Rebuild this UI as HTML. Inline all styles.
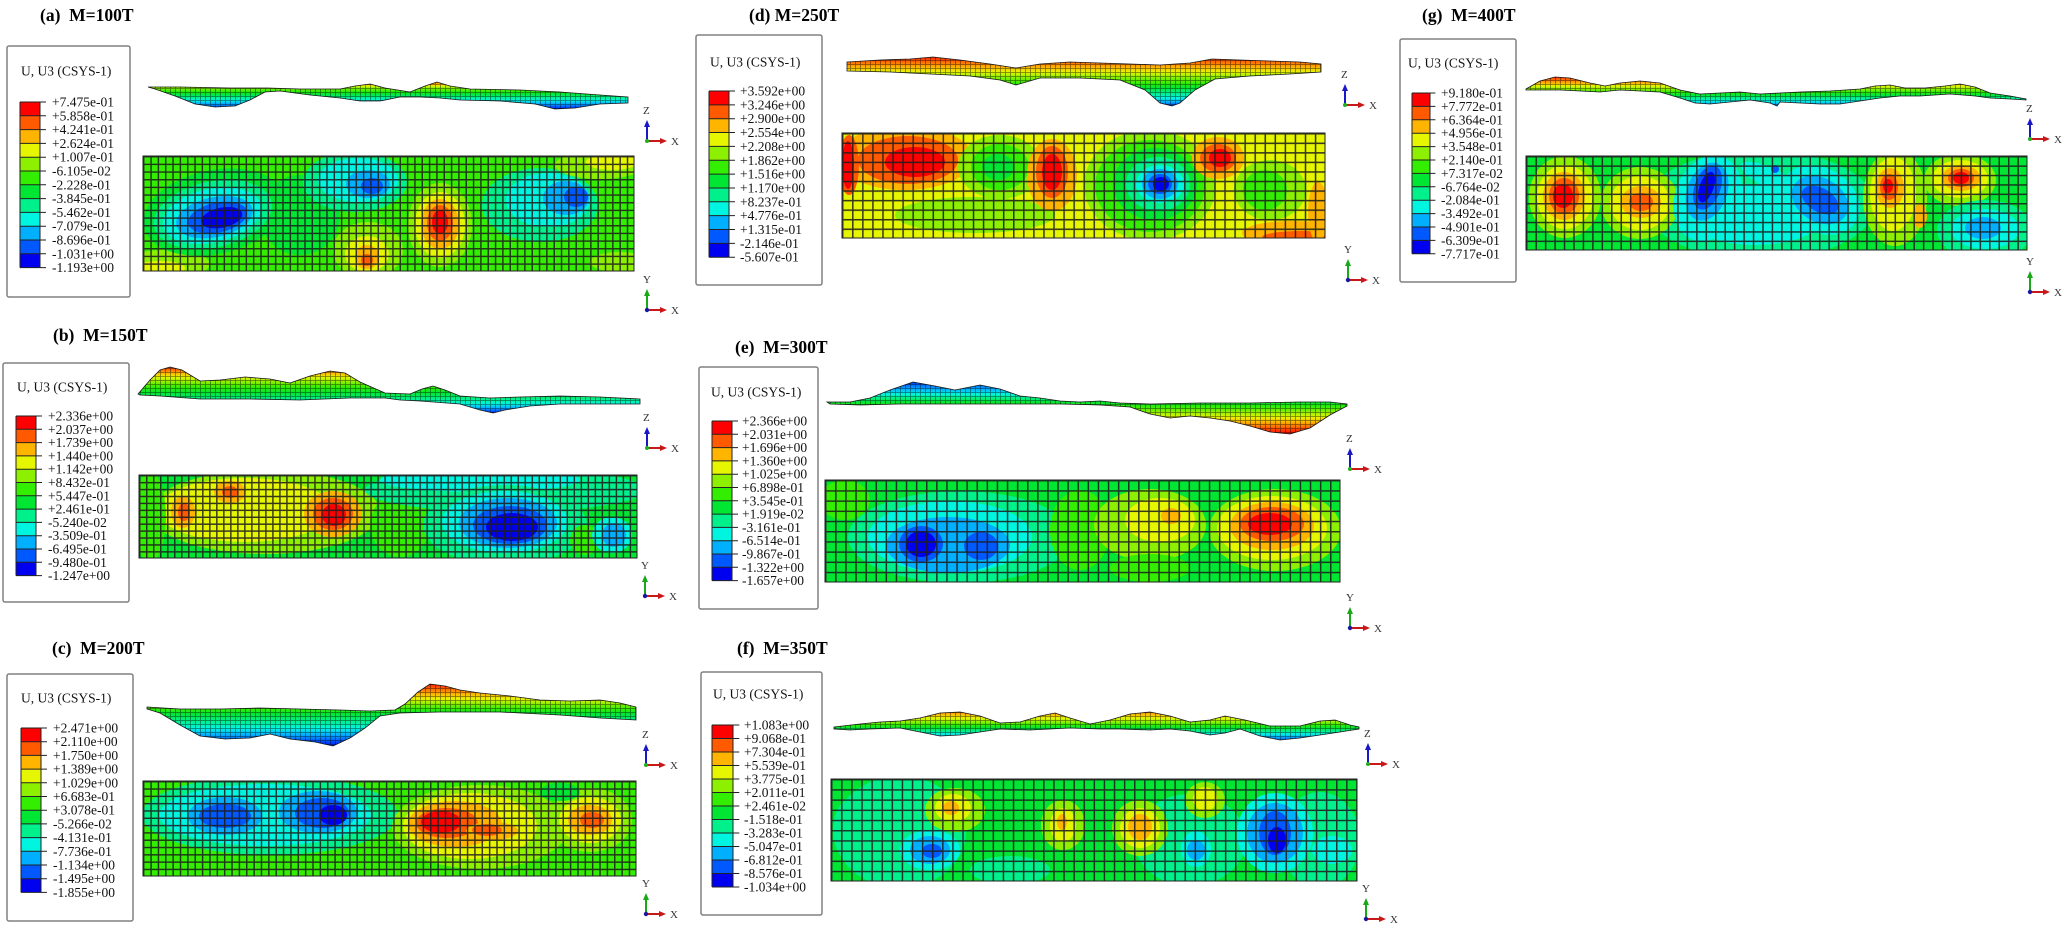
<!DOCTYPE html>
<html><head><meta charset="utf-8"><style>
html,body{margin:0;padding:0;background:#fff;}
svg{display:block;}
text{font-family:"Liberation Serif",serif;fill:#111;}
.tt{font-weight:bold;font-size:17.5px;fill:#000;}
.lg{font-size:13.5px;}
.ax{font-size:11px;fill:#333;}
</style></head><body>
<svg width="2067" height="930" viewBox="0 0 2067 930" xmlns="http://www.w3.org/2000/svg">
<defs>
<g id="bar">
<rect x="0" y="0" width="1" height="1" fill="#ff0000"/>
<rect x="0" y="1" width="1" height="1" fill="#ff5a00"/>
<rect x="0" y="2" width="1" height="1" fill="#ffb400"/>
<rect x="0" y="3" width="1" height="1" fill="#e6f500"/>
<rect x="0" y="4" width="1" height="1" fill="#8cf000"/>
<rect x="0" y="5" width="1" height="1" fill="#33ee00"/>
<rect x="0" y="6" width="1" height="1" fill="#00e633"/>
<rect x="0" y="7" width="1" height="1" fill="#00f08c"/>
<rect x="0" y="8" width="1" height="1" fill="#00f5e0"/>
<rect x="0" y="9" width="1" height="1" fill="#00b0ff"/>
<rect x="0" y="10" width="1" height="1" fill="#0058ff"/>
<rect x="0" y="11" width="1" height="1" fill="#0000f0"/>
<path d="M0 0H1.3M0 1H1.3M0 2H1.3M0 3H1.3M0 4H1.3M0 5H1.3M0 6H1.3M0 7H1.3M0 8H1.3M0 9H1.3M0 10H1.3M0 11H1.3M0 12H1.3M0 0V12M1 0V12" stroke="#222" stroke-width="1" fill="none" vector-effect="non-scaling-stroke"/>
</g>
<pattern id="m3" patternUnits="userSpaceOnUse" width="5" height="4"><path d="M.5 0V4M0 .5H5" stroke="#000" stroke-opacity=".5" stroke-width=".8" fill="none"/></pattern>
<pattern id="pa" patternUnits="userSpaceOnUse" x="143" y="156" width="7.33" height="7.67"><path d="M0 .7H7.33M.7 0V7.67" stroke="#1e1e1e" stroke-opacity=".88" stroke-width="1.5" fill="none"/></pattern>
<pattern id="pb" patternUnits="userSpaceOnUse" x="139" y="475" width="7.01" height="6.92"><path d="M0 .7H7.01M.7 0V6.92" stroke="#1e1e1e" stroke-opacity=".88" stroke-width="1.5" fill="none"/></pattern>
<pattern id="pc" patternUnits="userSpaceOnUse" x="143" y="781" width="7.36" height="7.31"><path d="M0 .7H7.36M.7 0V7.31" stroke="#1e1e1e" stroke-opacity=".88" stroke-width="1.5" fill="none"/></pattern>
<pattern id="pd" patternUnits="userSpaceOnUse" x="842" y="133" width="10.06" height="9.55"><path d="M0 .7H10.06M.7 0V9.55" stroke="#1e1e1e" stroke-opacity=".88" stroke-width="1.6" fill="none"/></pattern>
<pattern id="pe" patternUnits="userSpaceOnUse" x="825" y="480" width="10.1" height="10.2"><path d="M0 .7H10.1M.7 0V10.2" stroke="#1e1e1e" stroke-opacity=".88" stroke-width="1.6" fill="none"/></pattern>
<pattern id="pf" patternUnits="userSpaceOnUse" x="831" y="779" width="10.1" height="10.2"><path d="M0 .7H10.1M.7 0V10.2" stroke="#1e1e1e" stroke-opacity=".88" stroke-width="1.6" fill="none"/></pattern>
<pattern id="pg" patternUnits="userSpaceOnUse" x="1526" y="156" width="9.45" height="9.4"><path d="M0 .7H9.45M.7 0V9.4" stroke="#1e1e1e" stroke-opacity=".88" stroke-width="1.6" fill="none"/></pattern>
<clipPath id="ca"><rect x="143" y="156" width="491" height="115"/></clipPath>
<clipPath id="cb"><rect x="139" y="475" width="498" height="83"/></clipPath>
<clipPath id="cc"><rect x="143" y="781" width="493" height="95"/></clipPath>
<clipPath id="cd"><rect x="842" y="133" width="483" height="105"/></clipPath>
<clipPath id="ce"><rect x="825" y="480" width="515" height="102"/></clipPath>
<clipPath id="cf"><rect x="831" y="779" width="526" height="102"/></clipPath>
<clipPath id="cg"><rect x="1526" y="156" width="501" height="94"/></clipPath>

<linearGradient id="ga" gradientUnits="userSpaceOnUse" x1="0" y1="78" x2="0" y2="110">
<stop offset="0" stop-color="#ff0000"/><stop offset=".09" stop-color="#ff5a00"/><stop offset=".19" stop-color="#ffb400"/><stop offset=".25" stop-color="#e6f500"/><stop offset=".31" stop-color="#8cf000"/><stop offset=".41" stop-color="#33ee00"/><stop offset=".5" stop-color="#00e633"/><stop offset=".6" stop-color="#00f08c"/><stop offset=".7" stop-color="#00f5e0"/><stop offset=".8" stop-color="#00b0ff"/><stop offset=".9" stop-color="#0058ff"/><stop offset="1" stop-color="#0000f0"/></linearGradient>
<linearGradient id="gb" gradientUnits="userSpaceOnUse" x1="0" y1="365" x2="0" y2="415">
<stop offset="0" stop-color="#ff0000"/><stop offset=".08" stop-color="#ff5a00"/><stop offset=".16" stop-color="#ffb400"/><stop offset=".24" stop-color="#e6f500"/><stop offset=".34" stop-color="#8cf000"/><stop offset=".44" stop-color="#33ee00"/><stop offset=".56" stop-color="#00e633"/><stop offset=".68" stop-color="#00f08c"/><stop offset=".78" stop-color="#00f5e0"/><stop offset=".86" stop-color="#00b0ff"/><stop offset=".92" stop-color="#0058ff"/><stop offset="1" stop-color="#0000f0"/></linearGradient>
<linearGradient id="gc" gradientUnits="userSpaceOnUse" x1="0" y1="682" x2="0" y2="748">
<stop offset="0" stop-color="#ff0000"/><stop offset=".09" stop-color="#ff5a00"/><stop offset=".18" stop-color="#ffb400"/><stop offset=".26" stop-color="#e6f500"/><stop offset=".33" stop-color="#8cf000"/><stop offset=".41" stop-color="#33ee00"/><stop offset=".48" stop-color="#00e633"/><stop offset=".59" stop-color="#00f08c"/><stop offset=".7" stop-color="#00f5e0"/><stop offset=".8" stop-color="#00b0ff"/><stop offset=".89" stop-color="#0058ff"/><stop offset="1" stop-color="#0000f0"/></linearGradient>
<linearGradient id="gd" gradientUnits="userSpaceOnUse" x1="0" y1="55" x2="0" y2="108">
<stop offset="0" stop-color="#ff0000"/><stop offset=".11" stop-color="#ff5a00"/><stop offset=".23" stop-color="#ffb400"/><stop offset=".32" stop-color="#e6f500"/><stop offset=".42" stop-color="#8cf000"/><stop offset=".53" stop-color="#33ee00"/><stop offset=".62" stop-color="#00e633"/><stop offset=".72" stop-color="#00f08c"/><stop offset=".81" stop-color="#00f5e0"/><stop offset=".89" stop-color="#00b0ff"/><stop offset=".94" stop-color="#0058ff"/><stop offset="1" stop-color="#0000f0"/></linearGradient>
<linearGradient id="ge" gradientUnits="userSpaceOnUse" x1="0" y1="380" x2="0" y2="434">
<stop offset="0" stop-color="#0000f0"/><stop offset=".07" stop-color="#0058ff"/><stop offset=".17" stop-color="#00b0ff"/><stop offset=".26" stop-color="#00f5e0"/><stop offset=".33" stop-color="#00f08c"/><stop offset=".41" stop-color="#00e633"/><stop offset=".5" stop-color="#33ee00"/><stop offset=".59" stop-color="#8cf000"/><stop offset=".69" stop-color="#e6f500"/><stop offset=".78" stop-color="#ffb400"/><stop offset=".89" stop-color="#ff5a00"/><stop offset="1" stop-color="#ff0000"/></linearGradient>
<linearGradient id="gf" gradientUnits="userSpaceOnUse" x1="0" y1="710" x2="0" y2="741">
<stop offset="0" stop-color="#ff5a00"/><stop offset=".13" stop-color="#ffb400"/><stop offset=".26" stop-color="#e6f500"/><stop offset=".39" stop-color="#8cf000"/><stop offset=".48" stop-color="#33ee00"/><stop offset=".58" stop-color="#00e633"/><stop offset=".68" stop-color="#00f08c"/><stop offset=".77" stop-color="#00f5e0"/><stop offset=".87" stop-color="#00b0ff"/><stop offset="1" stop-color="#0058ff"/></linearGradient>
<linearGradient id="gg" gradientUnits="userSpaceOnUse" x1="0" y1="75" x2="0" y2="107">
<stop offset="0" stop-color="#ff0000"/><stop offset=".12" stop-color="#ff5a00"/><stop offset=".25" stop-color="#ffb400"/><stop offset=".34" stop-color="#e6f500"/><stop offset=".44" stop-color="#8cf000"/><stop offset=".53" stop-color="#33ee00"/><stop offset=".62" stop-color="#00e633"/><stop offset=".72" stop-color="#00f08c"/><stop offset=".81" stop-color="#00f5e0"/><stop offset=".91" stop-color="#00b0ff"/><stop offset="1" stop-color="#0058ff"/></linearGradient>

<path id="sa" d="M148 87L180 87L230 88L268 88L300 89L340 89L355 86L370 84L385 88L410 92L425 86L437 82L450 86L470 89L520 90L560 92L600 95L628 97L628 103L600 104L575 108L555 109L535 104L500 101L460 100L440 98L420 97L400 97L380 101L360 101L340 98L310 95L280 91L265 92L250 100L235 106L215 107L195 104L175 96L155 89Z"/>
<path id="sb" d="M138 394L150 380L160 370L170 367L182 370L200 381L220 380L245 377L270 379L290 383L310 376L330 371L345 373L360 382L385 393L410 394L422 389L433 386L445 390L460 396L490 398L520 397L560 396L600 397L640 399L640 404L600 404L560 404L530 406L505 410L493 413L480 410L460 404L420 401L400 400L385 398L350 398L300 400L250 399L200 399L160 396L140 395Z"/>
<path id="sc" d="M147 707L180 709L220 709L260 708L300 709L340 710L370 711L395 710L405 704L418 692L430 684L445 686L460 690L480 693L510 696L540 700L570 701L600 700L620 703L636 707L636 720L600 718L560 715L500 712L440 712L400 713L380 716L365 728L350 738L333 746L315 742L290 739L270 734L250 738L225 739L200 736L180 725L160 713L147 709Z"/>
<path id="sd" d="M847 62L880 60L910 59L933 57L960 60L990 64L1016 68L1040 64L1070 62L1100 63L1130 64L1160 65L1190 63L1212 59L1240 60L1270 61L1300 62L1321 64L1321 72L1290 74L1250 76L1215 79L1195 90L1180 103L1172 106L1160 103L1145 90L1120 80L1080 78L1040 78L1016 85L1000 80L970 76L930 74L890 72L847 71Z"/>
<path id="se" d="M827 402L850 402L870 398L890 390L913 382L935 386L955 390L980 385L1000 389L1020 396L1040 398L1060 401L1080 402L1100 401L1120 403L1150 404L1200 403L1250 403L1300 402L1330 402L1347 404L1347 406L1330 415L1310 428L1290 434L1270 432L1250 426L1230 421L1210 418L1190 416L1170 418L1150 414L1130 407L1100 405L1060 404L1000 404L950 404L900 404L860 405L830 404Z"/>
<path id="sf" d="M834 727L860 724L880 722L900 721L920 718L940 713L960 712L980 716L1000 723L1020 722L1040 716L1055 713L1070 718L1090 724L1110 720L1130 714L1150 712L1170 716L1190 722L1210 720L1225 716L1245 720L1270 726L1300 726L1320 721L1335 720L1350 725L1359 727L1359 729L1340 732L1320 735L1300 738L1280 740L1260 736L1240 729L1225 733L1210 735L1190 731L1170 729L1150 730L1120 729L1100 729L1070 728L1050 729L1030 730L1000 729L980 732L960 735L940 736L920 732L900 728L870 729L850 730L834 729Z"/>
<path id="sg" d="M1526 89L1540 81L1555 77L1570 78L1590 83L1605 86L1620 83L1640 81L1660 83L1680 90L1700 94L1720 93L1740 92L1760 94L1780 93L1800 92L1830 91L1860 89L1875 86L1890 85L1905 88L1925 88L1945 86L1960 84L1975 87L1990 93L2010 96L2026 99L2026 100L2010 99L1990 98L1975 96L1950 94L1920 96L1900 96L1880 98L1860 101L1840 104L1820 104L1800 103L1780 102L1777 106L1770 103L1750 100L1730 102L1710 104L1695 103L1680 98L1660 92L1640 91L1620 90L1600 92L1580 91L1560 90L1540 90L1526 90Z"/>
</defs>

<rect width="2067" height="930" fill="#fff"/>

<!-- Titles -->
<text class="tt" x="40" y="21">(a)&#160; M=100T</text>
<text class="tt" x="53" y="341">(b)&#160; M=150T</text>
<text class="tt" x="52" y="654">(c)&#160; M=200T</text>
<text class="tt" x="749" y="21">(d) M=250T</text>
<text class="tt" x="735" y="353">(e)&#160; M=300T</text>
<text class="tt" x="737" y="654">(f)&#160; M=350T</text>
<text class="tt" x="1422" y="21">(g)&#160; M=400T</text>

<!-- Legends -->
<g>
<rect x="7" y="46" width="123" height="251" rx="2" fill="#fff" stroke="#808080" stroke-width="1.5"/>
<text class="lg" x="21" y="75.5">U, U3 (CSYS-1)</text>
<use href="#bar" transform="translate(20,102) scale(20,13.8)"/>
<text class="lg"><tspan x="52" y="106.5">+7.475e-01</tspan><tspan x="52" y="120.3">+5.858e-01</tspan><tspan x="52" y="134.1">+4.241e-01</tspan><tspan x="52" y="147.9">+2.624e-01</tspan><tspan x="52" y="161.7">+1.007e-01</tspan><tspan x="52" y="175.5">-6.105e-02</tspan><tspan x="52" y="189.3">-2.228e-01</tspan><tspan x="52" y="203.1">-3.845e-01</tspan><tspan x="52" y="216.9">-5.462e-01</tspan><tspan x="52" y="230.7">-7.079e-01</tspan><tspan x="52" y="244.5">-8.696e-01</tspan><tspan x="52" y="258.3">-1.031e+00</tspan><tspan x="52" y="272.1">-1.193e+00</tspan></text>
</g>
<g>
<rect x="3" y="363" width="126" height="239" rx="2" fill="#fff" stroke="#808080" stroke-width="1.5"/>
<text class="lg" x="17" y="391.5">U, U3 (CSYS-1)</text>
<use href="#bar" transform="translate(16,416) scale(20,13.3)"/>
<text class="lg"><tspan x="48" y="420.5">+2.336e+00</tspan><tspan x="48" y="433.8">+2.037e+00</tspan><tspan x="48" y="447.1">+1.739e+00</tspan><tspan x="48" y="460.4">+1.440e+00</tspan><tspan x="48" y="473.7">+1.142e+00</tspan><tspan x="48" y="487">+8.432e-01</tspan><tspan x="48" y="500.3">+5.447e-01</tspan><tspan x="48" y="513.6">+2.461e-01</tspan><tspan x="48" y="526.9">-5.240e-02</tspan><tspan x="48" y="540.2">-3.509e-01</tspan><tspan x="48" y="553.5">-6.495e-01</tspan><tspan x="48" y="566.8">-9.480e-01</tspan><tspan x="48" y="580.1">-1.247e+00</tspan></text>
</g>
<g>
<rect x="7" y="674" width="126" height="247" rx="2" fill="#fff" stroke="#808080" stroke-width="1.5"/>
<text class="lg" x="21" y="702.5">U, U3 (CSYS-1)</text>
<use href="#bar" transform="translate(21,728) scale(20,13.7)"/>
<text class="lg"><tspan x="53" y="732.5">+2.471e+00</tspan><tspan x="53" y="746.2">+2.110e+00</tspan><tspan x="53" y="759.9">+1.750e+00</tspan><tspan x="53" y="773.6">+1.389e+00</tspan><tspan x="53" y="787.3">+1.029e+00</tspan><tspan x="53" y="801">+6.683e-01</tspan><tspan x="53" y="814.7">+3.078e-01</tspan><tspan x="53" y="828.4">-5.266e-02</tspan><tspan x="53" y="842.1">-4.131e-01</tspan><tspan x="53" y="855.8">-7.736e-01</tspan><tspan x="53" y="869.5">-1.134e+00</tspan><tspan x="53" y="883.2">-1.495e+00</tspan><tspan x="53" y="896.9">-1.855e+00</tspan></text>
</g>
<g>
<rect x="696" y="35" width="126" height="250" rx="2" fill="#fff" stroke="#808080" stroke-width="1.5"/>
<text class="lg" x="710" y="66.5">U, U3 (CSYS-1)</text>
<use href="#bar" transform="translate(709,91) scale(20,13.85)"/>
<text class="lg"><tspan x="740" y="95.5">+3.592e+00</tspan><tspan x="740" y="109.35">+3.246e+00</tspan><tspan x="740" y="123.2">+2.900e+00</tspan><tspan x="740" y="137.05">+2.554e+00</tspan><tspan x="740" y="150.9">+2.208e+00</tspan><tspan x="740" y="164.75">+1.862e+00</tspan><tspan x="740" y="178.6">+1.516e+00</tspan><tspan x="740" y="192.45">+1.170e+00</tspan><tspan x="740" y="206.3">+8.237e-01</tspan><tspan x="740" y="220.15">+4.776e-01</tspan><tspan x="740" y="234">+1.315e-01</tspan><tspan x="740" y="247.85">-2.146e-01</tspan><tspan x="740" y="261.7">-5.607e-01</tspan></text>
</g>
<g>
<rect x="699" y="367" width="119" height="242" rx="2" fill="#fff" stroke="#808080" stroke-width="1.5"/>
<text class="lg" x="711" y="396.5">U, U3 (CSYS-1)</text>
<use href="#bar" transform="translate(712,421) scale(20,13.3)"/>
<text class="lg"><tspan x="742" y="425.5">+2.366e+00</tspan><tspan x="742" y="438.8">+2.031e+00</tspan><tspan x="742" y="452.1">+1.696e+00</tspan><tspan x="742" y="465.4">+1.360e+00</tspan><tspan x="742" y="478.7">+1.025e+00</tspan><tspan x="742" y="492">+6.898e-01</tspan><tspan x="742" y="505.3">+3.545e-01</tspan><tspan x="742" y="518.6">+1.919e-02</tspan><tspan x="742" y="531.9">-3.161e-01</tspan><tspan x="742" y="545.2">-6.514e-01</tspan><tspan x="742" y="558.5">-9.867e-01</tspan><tspan x="742" y="571.8">-1.322e+00</tspan><tspan x="742" y="585.1">-1.657e+00</tspan></text>
</g>
<g>
<rect x="701" y="672" width="121" height="243" rx="2" fill="#fff" stroke="#808080" stroke-width="1.5"/>
<text class="lg" x="713" y="698.5">U, U3 (CSYS-1)</text>
<use href="#bar" transform="translate(712,725) scale(21,13.5)"/>
<text class="lg"><tspan x="744" y="729.5">+1.083e+00</tspan><tspan x="744" y="743">+9.068e-01</tspan><tspan x="744" y="756.5">+7.304e-01</tspan><tspan x="744" y="770">+5.539e-01</tspan><tspan x="744" y="783.5">+3.775e-01</tspan><tspan x="744" y="797">+2.011e-01</tspan><tspan x="744" y="810.5">+2.461e-02</tspan><tspan x="744" y="824">-1.518e-01</tspan><tspan x="744" y="837.5">-3.283e-01</tspan><tspan x="744" y="851">-5.047e-01</tspan><tspan x="744" y="864.5">-6.812e-01</tspan><tspan x="744" y="878">-8.576e-01</tspan><tspan x="744" y="891.5">-1.034e+00</tspan></text>
</g>
<g>
<rect x="1400" y="39" width="116" height="243" rx="2" fill="#fff" stroke="#808080" stroke-width="1.5"/>
<text class="lg" x="1408" y="67.5">U, U3 (CSYS-1)</text>
<use href="#bar" transform="translate(1412,93) scale(18,13.4)"/>
<text class="lg"><tspan x="1441" y="97.5">+9.180e-01</tspan><tspan x="1441" y="110.9">+7.772e-01</tspan><tspan x="1441" y="124.3">+6.364e-01</tspan><tspan x="1441" y="137.7">+4.956e-01</tspan><tspan x="1441" y="151.1">+3.548e-01</tspan><tspan x="1441" y="164.5">+2.140e-01</tspan><tspan x="1441" y="177.9">+7.317e-02</tspan><tspan x="1441" y="191.3">-6.764e-02</tspan><tspan x="1441" y="204.7">-2.084e-01</tspan><tspan x="1441" y="218.1">-3.492e-01</tspan><tspan x="1441" y="231.5">-4.901e-01</tspan><tspan x="1441" y="244.9">-6.309e-01</tspan><tspan x="1441" y="258.3">-7.717e-01</tspan></text>
</g>

<!-- 3D surfaces -->
<use href="#sa" fill="url(#ga)" stroke="#1a1a1a" stroke-width=".8"/><use href="#sa" fill="url(#m3)"/>
<use href="#sb" fill="url(#gb)" stroke="#1a1a1a" stroke-width=".8"/><use href="#sb" fill="url(#m3)"/>
<use href="#sc" fill="url(#gc)" stroke="#1a1a1a" stroke-width=".8"/><use href="#sc" fill="url(#m3)"/>
<use href="#sd" fill="url(#gd)" stroke="#1a1a1a" stroke-width=".8"/><use href="#sd" fill="url(#m3)"/>
<use href="#se" fill="url(#ge)" stroke="#1a1a1a" stroke-width=".8"/><use href="#se" fill="url(#m3)"/>
<use href="#sf" fill="url(#gf)" stroke="#1a1a1a" stroke-width=".8"/><use href="#sf" fill="url(#m3)"/>
<use href="#sg" fill="url(#gg)" stroke="#1a1a1a" stroke-width=".8"/><use href="#sg" fill="url(#m3)"/>

<!-- Contour (a) -->
<g clip-path="url(#ca)">
<rect x="143" y="156" width="491" height="115" fill="#33ee00"/>
<ellipse cx="300" cy="215" rx="40" ry="40" fill="#00e633"/>
<ellipse cx="165" cy="264" rx="45" ry="14" fill="#8cf000"/>
<ellipse cx="160" cy="268" rx="25" ry="7" fill="#e6f500"/>
<g transform="rotate(-12 215 215)">
<ellipse cx="215" cy="212" rx="72" ry="42" fill="#00e633"/>
<ellipse cx="213" cy="214" rx="60" ry="33" fill="#00f08c"/>
<ellipse cx="212" cy="215" rx="50" ry="27" fill="#00f5e0"/>
<ellipse cx="214" cy="217" rx="39" ry="20" fill="#00b0ff"/>
<ellipse cx="217" cy="218" rx="30" ry="15" fill="#0058ff"/>
<ellipse cx="221" cy="219" rx="21" ry="10" fill="#0000f0"/>
</g>
<ellipse cx="355" cy="182" rx="52" ry="30" fill="#00f08c"/>
<ellipse cx="358" cy="180" rx="40" ry="22" fill="#00f5e0"/>
<ellipse cx="368" cy="184" rx="22" ry="14" fill="#00b0ff"/>
<ellipse cx="372" cy="186" rx="11" ry="8" fill="#0058ff"/>
<ellipse cx="368" cy="250" rx="35" ry="28" fill="#8cf000"/>
<ellipse cx="367" cy="254" rx="22" ry="18" fill="#e6f500"/>
<ellipse cx="367" cy="257" rx="12" ry="12" fill="#ffb400"/>
<ellipse cx="367" cy="260" rx="6" ry="6" fill="#ff5a00"/>
<ellipse cx="440" cy="225" rx="32" ry="42" fill="#8cf000"/>
<ellipse cx="440" cy="225" rx="25" ry="33" fill="#e6f500"/>
<ellipse cx="440" cy="224" rx="19" ry="25" fill="#ffb400"/>
<ellipse cx="440" cy="223" rx="13" ry="18" fill="#ff5a00"/>
<ellipse cx="440" cy="222" rx="8" ry="12" fill="#ff0000"/>
<ellipse cx="540" cy="205" rx="58" ry="37" fill="#00f08c"/>
<ellipse cx="548" cy="200" rx="42" ry="27" fill="#00f5e0"/>
<ellipse cx="566" cy="198" rx="23" ry="17" fill="#00b0ff"/>
<ellipse cx="576" cy="197" rx="12" ry="10" fill="#0058ff"/>
<ellipse cx="600" cy="165" rx="45" ry="14" fill="#8cf000"/>
<ellipse cx="612" cy="162" rx="26" ry="8" fill="#e6f500"/>
<ellipse cx="620" cy="262" rx="30" ry="10" fill="#8cf000"/>
<rect x="143" y="156" width="491" height="115" fill="url(#pa)"/>
</g>
<rect x="143" y="156" width="491" height="115" fill="none" stroke="#222" stroke-width="1"/>

<!-- Contour (b) -->
<g clip-path="url(#cb)">
<rect x="139" y="475" width="498" height="83" fill="#00e633"/>
<ellipse cx="265" cy="512" rx="115" ry="42" fill="#8cf000"/>
<ellipse cx="245" cy="510" rx="88" ry="32" fill="#e6f500"/>
<ellipse cx="150" cy="517" rx="16" ry="45" fill="#33ee00"/>
<ellipse cx="183" cy="512" rx="12" ry="16" fill="#ffb400"/>
<ellipse cx="184" cy="512" rx="6" ry="9" fill="#ff5a00"/>
<ellipse cx="230" cy="492" rx="16" ry="11" fill="#ffb400"/>
<ellipse cx="230" cy="492" rx="8" ry="6" fill="#ff5a00"/>
<ellipse cx="333" cy="514" rx="29" ry="23" fill="#ffb400"/>
<ellipse cx="333" cy="514" rx="20" ry="16" fill="#ff5a00"/>
<ellipse cx="334" cy="515" rx="12" ry="11" fill="#ff0000"/>
<ellipse cx="400" cy="525" rx="30" ry="32" fill="#33ee00"/>
<ellipse cx="505" cy="490" rx="140" ry="22" fill="#00f08c"/>
<ellipse cx="480" cy="480" rx="100" ry="12" fill="#00f5e0"/>
<ellipse cx="505" cy="525" rx="82" ry="40" fill="#00f08c"/>
<ellipse cx="505" cy="522" rx="63" ry="31" fill="#00f5e0"/>
<ellipse cx="508" cy="523" rx="49" ry="25" fill="#00b0ff"/>
<ellipse cx="510" cy="525" rx="37" ry="19" fill="#0058ff"/>
<ellipse cx="512" cy="527" rx="26" ry="14" fill="#0000f0"/>
<ellipse cx="585" cy="540" rx="15" ry="15" fill="#33ee00"/>
<ellipse cx="612" cy="535" rx="20" ry="18" fill="#00f5e0"/>
<ellipse cx="614" cy="535" rx="12" ry="12" fill="#00b0ff"/>
<rect x="139" y="475" width="498" height="83" fill="url(#pb)"/>
</g>
<rect x="139" y="475" width="498" height="83" fill="none" stroke="#222" stroke-width="1"/>

<!-- Contour (c) -->
<g clip-path="url(#cc)">
<rect x="143" y="781" width="493" height="95" fill="#33ee00"/>
<ellipse cx="270" cy="815" rx="128" ry="40" fill="#00f08c"/>
<ellipse cx="265" cy="815" rx="106" ry="31" fill="#00f5e0"/>
<ellipse cx="225" cy="816" rx="37" ry="19" fill="#00b0ff"/>
<ellipse cx="225" cy="816" rx="26" ry="12" fill="#0058ff"/>
<ellipse cx="318" cy="812" rx="39" ry="21" fill="#00b0ff"/>
<ellipse cx="322" cy="813" rx="27" ry="15" fill="#0058ff"/>
<ellipse cx="333" cy="815" rx="14" ry="10" fill="#0000f0"/>
<ellipse cx="480" cy="827" rx="88" ry="42" fill="#8cf000"/>
<ellipse cx="470" cy="826" rx="67" ry="33" fill="#e6f500"/>
<ellipse cx="455" cy="824" rx="47" ry="23" fill="#ffb400"/>
<ellipse cx="447" cy="823" rx="31" ry="15" fill="#ff5a00"/>
<ellipse cx="441" cy="822" rx="20" ry="11" fill="#ff0000"/>
<ellipse cx="492" cy="831" rx="26" ry="9" fill="#ffb400"/>
<ellipse cx="487" cy="830" rx="15" ry="6" fill="#ff5a00"/>
<ellipse cx="590" cy="820" rx="42" ry="32" fill="#8cf000"/>
<ellipse cx="590" cy="820" rx="31" ry="23" fill="#e6f500"/>
<ellipse cx="590" cy="820" rx="22" ry="15" fill="#ffb400"/>
<ellipse cx="592" cy="820" rx="12" ry="8" fill="#ff5a00"/>
<ellipse cx="560" cy="792" rx="20" ry="9" fill="#00e633"/>
<rect x="143" y="781" width="493" height="95" fill="url(#pc)"/>
</g>
<rect x="143" y="781" width="493" height="95" fill="none" stroke="#222" stroke-width="1"/>

<!-- Contour (d) -->
<g clip-path="url(#cd)">
<rect x="842" y="133" width="483" height="105" fill="#e6f500"/>
<ellipse cx="905" cy="158" rx="68" ry="32" fill="#ffb400"/>
<ellipse cx="908" cy="160" rx="50" ry="24" fill="#ff5a00"/>
<ellipse cx="915" cy="162" rx="30" ry="15" fill="#ff0000"/>
<ellipse cx="849" cy="165" rx="10" ry="30" fill="#ff5a00"/>
<ellipse cx="848" cy="165" rx="6" ry="24" fill="#ff0000"/>
<ellipse cx="975" cy="215" rx="80" ry="18" fill="#8cf000"/>
<ellipse cx="1000" cy="167" rx="42" ry="32" fill="#8cf000"/>
<ellipse cx="1000" cy="167" rx="29" ry="23" fill="#33ee00"/>
<ellipse cx="998" cy="167" rx="16" ry="13" fill="#00e633"/>
<ellipse cx="1052" cy="175" rx="25" ry="36" fill="#ffb400"/>
<ellipse cx="1052" cy="172" rx="16" ry="26" fill="#ff5a00"/>
<ellipse cx="1052" cy="172" rx="10" ry="18" fill="#ff0000"/>
<ellipse cx="1150" cy="185" rx="66" ry="55" fill="#8cf000"/>
<ellipse cx="1150" cy="186" rx="55" ry="46" fill="#33ee00"/>
<ellipse cx="1155" cy="184" rx="42" ry="36" fill="#00e633"/>
<ellipse cx="1158" cy="184" rx="32" ry="27" fill="#00f08c"/>
<ellipse cx="1160" cy="184" rx="24" ry="19" fill="#00f5e0"/>
<ellipse cx="1160" cy="184" rx="18" ry="15" fill="#00b0ff"/>
<ellipse cx="1160" cy="184" rx="12" ry="10" fill="#0058ff"/>
<ellipse cx="1161" cy="184" rx="8" ry="7" fill="#0000f0"/>
<ellipse cx="1218" cy="158" rx="26" ry="21" fill="#ffb400"/>
<ellipse cx="1218" cy="158" rx="18" ry="14" fill="#ff5a00"/>
<ellipse cx="1220" cy="158" rx="11" ry="9" fill="#ff0000"/>
<ellipse cx="1270" cy="190" rx="36" ry="30" fill="#8cf000"/>
<ellipse cx="1265" cy="190" rx="22" ry="20" fill="#33ee00"/>
<ellipse cx="1292" cy="233" rx="50" ry="12" fill="#ffb400"/>
<ellipse cx="1302" cy="237" rx="40" ry="6" fill="#ff5a00"/>
<ellipse cx="1318" cy="212" rx="10" ry="30" fill="#ffb400"/>
<rect x="842" y="133" width="483" height="105" fill="url(#pd)"/>
</g>
<rect x="842" y="133" width="483" height="105" fill="none" stroke="#222" stroke-width="1"/>

<!-- Contour (e) -->
<g clip-path="url(#ce)">
<rect x="825" y="480" width="515" height="102" fill="#00e633"/>
<ellipse cx="845" cy="500" rx="25" ry="20" fill="#33ee00"/>
<ellipse cx="960" cy="537" rx="112" ry="46" fill="#00f08c"/>
<ellipse cx="950" cy="537" rx="82" ry="36" fill="#00f5e0"/>
<ellipse cx="948" cy="545" rx="62" ry="28" fill="#00b0ff"/>
<ellipse cx="921" cy="544" rx="22" ry="18" fill="#0058ff"/>
<ellipse cx="921" cy="544" rx="15" ry="13" fill="#0000f0"/>
<ellipse cx="981" cy="546" rx="17" ry="14" fill="#0058ff"/>
<ellipse cx="1080" cy="530" rx="30" ry="40" fill="#33ee00"/>
<ellipse cx="1150" cy="525" rx="56" ry="36" fill="#8cf000"/>
<ellipse cx="1160" cy="520" rx="35" ry="22" fill="#e6f500"/>
<ellipse cx="1171" cy="516" rx="10" ry="8" fill="#ffb400"/>
<ellipse cx="1150" cy="568" rx="40" ry="14" fill="#33ee00"/>
<ellipse cx="1275" cy="530" rx="66" ry="41" fill="#8cf000"/>
<ellipse cx="1272" cy="528" rx="55" ry="32" fill="#e6f500"/>
<ellipse cx="1272" cy="526" rx="42" ry="24" fill="#ffb400"/>
<ellipse cx="1272" cy="524" rx="32" ry="17" fill="#ff5a00"/>
<ellipse cx="1270" cy="524" rx="22" ry="11" fill="#ff0000"/>
<rect x="825" y="480" width="515" height="102" fill="url(#pe)"/>
</g>
<rect x="825" y="480" width="515" height="102" fill="none" stroke="#222" stroke-width="1"/>

<!-- Contour (f) -->
<g clip-path="url(#cf)">
<rect x="831" y="779" width="526" height="102" fill="#00e633"/>
<ellipse cx="900" cy="832" rx="66" ry="56" fill="#00f08c"/>
<ellipse cx="1190" cy="840" rx="56" ry="46" fill="#00f08c"/>
<ellipse cx="1320" cy="840" rx="40" ry="48" fill="#00f08c"/>
<ellipse cx="855" cy="830" rx="22" ry="34" fill="#00f08c"/>
<ellipse cx="1010" cy="870" rx="40" ry="14" fill="#00f08c"/>
<ellipse cx="955" cy="810" rx="30" ry="22" fill="#8cf000"/>
<ellipse cx="953" cy="808" rx="18" ry="14" fill="#e6f500"/>
<ellipse cx="951" cy="808" rx="8" ry="7" fill="#ffb400"/>
<ellipse cx="930" cy="850" rx="30" ry="20" fill="#00f5e0"/>
<ellipse cx="930" cy="850" rx="20" ry="14" fill="#00b0ff"/>
<ellipse cx="932" cy="851" rx="10" ry="7" fill="#0058ff"/>
<ellipse cx="1063" cy="825" rx="22" ry="25" fill="#8cf000"/>
<ellipse cx="1063" cy="825" rx="13" ry="17" fill="#e6f500"/>
<ellipse cx="1062" cy="822" rx="5" ry="8" fill="#ffb400"/>
<ellipse cx="1140" cy="828" rx="28" ry="28" fill="#8cf000"/>
<ellipse cx="1140" cy="828" rx="20" ry="20" fill="#e6f500"/>
<ellipse cx="1140" cy="827" rx="12" ry="13" fill="#ffb400"/>
<ellipse cx="1205" cy="800" rx="20" ry="18" fill="#8cf000"/>
<ellipse cx="1205" cy="799" rx="12" ry="12" fill="#e6f500"/>
<ellipse cx="1196" cy="849" rx="15" ry="18" fill="#00f5e0"/>
<ellipse cx="1196" cy="850" rx="9" ry="10" fill="#00b0ff"/>
<ellipse cx="1275" cy="833" rx="38" ry="40" fill="#00f5e0"/>
<ellipse cx="1275" cy="833" rx="28" ry="30" fill="#00b0ff"/>
<ellipse cx="1275" cy="833" rx="16" ry="22" fill="#0058ff"/>
<ellipse cx="1277" cy="840" rx="9" ry="13" fill="#0000f0"/>
<ellipse cx="1332" cy="850" rx="20" ry="14" fill="#00f5e0"/>
<rect x="831" y="779" width="526" height="102" fill="url(#pf)"/>
</g>
<rect x="831" y="779" width="526" height="102" fill="none" stroke="#222" stroke-width="1"/>

<!-- Contour (g) -->
<g clip-path="url(#cg)">
<rect x="1526" y="156" width="501" height="94" fill="#00e633"/>
<ellipse cx="1760" cy="205" rx="115" ry="55" fill="#00f08c"/>
<ellipse cx="1755" cy="215" rx="70" ry="30" fill="#00f5e0"/>
<ellipse cx="1565" cy="197" rx="36" ry="41" fill="#8cf000"/>
<ellipse cx="1565" cy="197" rx="28" ry="32" fill="#e6f500"/>
<ellipse cx="1564" cy="196" rx="21" ry="24" fill="#ffb400"/>
<ellipse cx="1564" cy="196" rx="15" ry="18" fill="#ff5a00"/>
<ellipse cx="1563" cy="196" rx="10" ry="12" fill="#ff0000"/>
<ellipse cx="1640" cy="203" rx="39" ry="36" fill="#8cf000"/>
<ellipse cx="1640" cy="203" rx="30" ry="27" fill="#e6f500"/>
<ellipse cx="1641" cy="202" rx="20" ry="16" fill="#ffb400"/>
<ellipse cx="1641" cy="202" rx="12" ry="9" fill="#ff5a00"/>
<g transform="rotate(20 1708 192)">
<ellipse cx="1710" cy="198" rx="33" ry="44" fill="#00f5e0"/>
<ellipse cx="1707" cy="192" rx="20" ry="30" fill="#00b0ff"/>
<ellipse cx="1706" cy="188" rx="13" ry="23" fill="#0058ff"/>
<ellipse cx="1705" cy="188" rx="7" ry="16" fill="#0000f0"/>
</g>
<ellipse cx="1770" cy="178" rx="32" ry="10" fill="#00f5e0" transform="rotate(25 1770 178)"/>
<circle cx="1775" cy="169" r="4" fill="#0058ff"/>
<g transform="rotate(30 1820 200)">
<ellipse cx="1820" cy="200" rx="42" ry="32" fill="#00f5e0"/>
<ellipse cx="1820" cy="200" rx="30" ry="22" fill="#00b0ff"/>
<ellipse cx="1820" cy="200" rx="20" ry="12" fill="#0058ff"/>
</g>
<ellipse cx="1895" cy="198" rx="32" ry="48" fill="#8cf000"/>
<ellipse cx="1893" cy="194" rx="23" ry="37" fill="#e6f500"/>
<ellipse cx="1890" cy="188" rx="14" ry="20" fill="#ffb400"/>
<ellipse cx="1889" cy="187" rx="9" ry="13" fill="#ff5a00"/>
<ellipse cx="1888" cy="186" rx="5" ry="7" fill="#ff0000"/>
<ellipse cx="1920" cy="216" rx="7" ry="12" fill="#ffb400"/>
<ellipse cx="1960" cy="180" rx="36" ry="26" fill="#8cf000"/>
<ellipse cx="1960" cy="179" rx="28" ry="19" fill="#e6f500"/>
<ellipse cx="1961" cy="178" rx="19" ry="13" fill="#ffb400"/>
<ellipse cx="1961" cy="178" rx="13" ry="9" fill="#ff5a00"/>
<ellipse cx="1961" cy="178" rx="8" ry="6" fill="#ff0000"/>
<ellipse cx="1985" cy="230" rx="48" ry="30" fill="#00f08c"/>
<ellipse cx="1985" cy="229" rx="34" ry="20" fill="#00f5e0"/>
<ellipse cx="1983" cy="228" rx="18" ry="11" fill="#00b0ff"/>
<rect x="1526" y="156" width="501" height="94" fill="url(#pg)"/>
</g>
<rect x="1526" y="156" width="501" height="94" fill="none" stroke="#222" stroke-width="1"/>

<!-- Z triads -->
<g transform="translate(647,141)"><line x1="0" y1="0" x2="0" y2="-15" stroke="#1818c8" stroke-width="2"/><path d="M-3 -14L0 -21L3 -14Z" fill="#1818c8"/><line x1="0" y1="0" x2="14" y2="0" stroke="#c81818" stroke-width="2"/><path d="M13 -3L20 0L13 3Z" fill="#c81818"/><circle r="2" fill="#20b020"/><text class="ax" x="-4" y="-27">Z</text><text class="ax" x="24" y="4">X</text></g>
<g transform="translate(647,448)"><line x1="0" y1="0" x2="0" y2="-15" stroke="#1818c8" stroke-width="2"/><path d="M-3 -14L0 -21L3 -14Z" fill="#1818c8"/><line x1="0" y1="0" x2="14" y2="0" stroke="#c81818" stroke-width="2"/><path d="M13 -3L20 0L13 3Z" fill="#c81818"/><circle r="2" fill="#20b020"/><text class="ax" x="-4" y="-27">Z</text><text class="ax" x="24" y="4">X</text></g>
<g transform="translate(646,765)"><line x1="0" y1="0" x2="0" y2="-15" stroke="#1818c8" stroke-width="2"/><path d="M-3 -14L0 -21L3 -14Z" fill="#1818c8"/><line x1="0" y1="0" x2="14" y2="0" stroke="#c81818" stroke-width="2"/><path d="M13 -3L20 0L13 3Z" fill="#c81818"/><circle r="2" fill="#20b020"/><text class="ax" x="-4" y="-27">Z</text><text class="ax" x="24" y="4">X</text></g>
<g transform="translate(1345,105)"><line x1="0" y1="0" x2="0" y2="-15" stroke="#1818c8" stroke-width="2"/><path d="M-3 -14L0 -21L3 -14Z" fill="#1818c8"/><line x1="0" y1="0" x2="14" y2="0" stroke="#c81818" stroke-width="2"/><path d="M13 -3L20 0L13 3Z" fill="#c81818"/><circle r="2" fill="#20b020"/><text class="ax" x="-4" y="-27">Z</text><text class="ax" x="24" y="4">X</text></g>
<g transform="translate(1350,469)"><line x1="0" y1="0" x2="0" y2="-15" stroke="#1818c8" stroke-width="2"/><path d="M-3 -14L0 -21L3 -14Z" fill="#1818c8"/><line x1="0" y1="0" x2="14" y2="0" stroke="#c81818" stroke-width="2"/><path d="M13 -3L20 0L13 3Z" fill="#c81818"/><circle r="2" fill="#20b020"/><text class="ax" x="-4" y="-27">Z</text><text class="ax" x="24" y="4">X</text></g>
<g transform="translate(1368,764)"><line x1="0" y1="0" x2="0" y2="-15" stroke="#1818c8" stroke-width="2"/><path d="M-3 -14L0 -21L3 -14Z" fill="#1818c8"/><line x1="0" y1="0" x2="14" y2="0" stroke="#c81818" stroke-width="2"/><path d="M13 -3L20 0L13 3Z" fill="#c81818"/><circle r="2" fill="#20b020"/><text class="ax" x="-4" y="-27">Z</text><text class="ax" x="24" y="4">X</text></g>
<g transform="translate(2030,139)"><line x1="0" y1="0" x2="0" y2="-15" stroke="#1818c8" stroke-width="2"/><path d="M-3 -14L0 -21L3 -14Z" fill="#1818c8"/><line x1="0" y1="0" x2="14" y2="0" stroke="#c81818" stroke-width="2"/><path d="M13 -3L20 0L13 3Z" fill="#c81818"/><circle r="2" fill="#20b020"/><text class="ax" x="-4" y="-27">Z</text><text class="ax" x="24" y="4">X</text></g>

<!-- Y triads -->
<g transform="translate(647,310)"><line x1="0" y1="0" x2="0" y2="-15" stroke="#18a818" stroke-width="2"/><path d="M-3 -14L0 -21L3 -14Z" fill="#18a818"/><line x1="0" y1="0" x2="14" y2="0" stroke="#c81818" stroke-width="2"/><path d="M13 -3L20 0L13 3Z" fill="#c81818"/><circle r="2.2" fill="#1818a0"/><text class="ax" x="-4" y="-27">Y</text><text class="ax" x="24" y="4">X</text></g>
<g transform="translate(645,596)"><line x1="0" y1="0" x2="0" y2="-15" stroke="#18a818" stroke-width="2"/><path d="M-3 -14L0 -21L3 -14Z" fill="#18a818"/><line x1="0" y1="0" x2="14" y2="0" stroke="#c81818" stroke-width="2"/><path d="M13 -3L20 0L13 3Z" fill="#c81818"/><circle r="2.2" fill="#1818a0"/><text class="ax" x="-4" y="-27">Y</text><text class="ax" x="24" y="4">X</text></g>
<g transform="translate(646,914)"><line x1="0" y1="0" x2="0" y2="-15" stroke="#18a818" stroke-width="2"/><path d="M-3 -14L0 -21L3 -14Z" fill="#18a818"/><line x1="0" y1="0" x2="14" y2="0" stroke="#c81818" stroke-width="2"/><path d="M13 -3L20 0L13 3Z" fill="#c81818"/><circle r="2.2" fill="#1818a0"/><text class="ax" x="-4" y="-27">Y</text><text class="ax" x="24" y="4">X</text></g>
<g transform="translate(1348,280)"><line x1="0" y1="0" x2="0" y2="-15" stroke="#18a818" stroke-width="2"/><path d="M-3 -14L0 -21L3 -14Z" fill="#18a818"/><line x1="0" y1="0" x2="14" y2="0" stroke="#c81818" stroke-width="2"/><path d="M13 -3L20 0L13 3Z" fill="#c81818"/><circle r="2.2" fill="#1818a0"/><text class="ax" x="-4" y="-27">Y</text><text class="ax" x="24" y="4">X</text></g>
<g transform="translate(1350,628)"><line x1="0" y1="0" x2="0" y2="-15" stroke="#18a818" stroke-width="2"/><path d="M-3 -14L0 -21L3 -14Z" fill="#18a818"/><line x1="0" y1="0" x2="14" y2="0" stroke="#c81818" stroke-width="2"/><path d="M13 -3L20 0L13 3Z" fill="#c81818"/><circle r="2.2" fill="#1818a0"/><text class="ax" x="-4" y="-27">Y</text><text class="ax" x="24" y="4">X</text></g>
<g transform="translate(1366,919)"><line x1="0" y1="0" x2="0" y2="-15" stroke="#18a818" stroke-width="2"/><path d="M-3 -14L0 -21L3 -14Z" fill="#18a818"/><line x1="0" y1="0" x2="14" y2="0" stroke="#c81818" stroke-width="2"/><path d="M13 -3L20 0L13 3Z" fill="#c81818"/><circle r="2.2" fill="#1818a0"/><text class="ax" x="-4" y="-27">Y</text><text class="ax" x="24" y="4">X</text></g>
<g transform="translate(2030,292)"><line x1="0" y1="0" x2="0" y2="-15" stroke="#18a818" stroke-width="2"/><path d="M-3 -14L0 -21L3 -14Z" fill="#18a818"/><line x1="0" y1="0" x2="14" y2="0" stroke="#c81818" stroke-width="2"/><path d="M13 -3L20 0L13 3Z" fill="#c81818"/><circle r="2.2" fill="#1818a0"/><text class="ax" x="-4" y="-27">Y</text><text class="ax" x="24" y="4">X</text></g>
</svg>
</body></html>
